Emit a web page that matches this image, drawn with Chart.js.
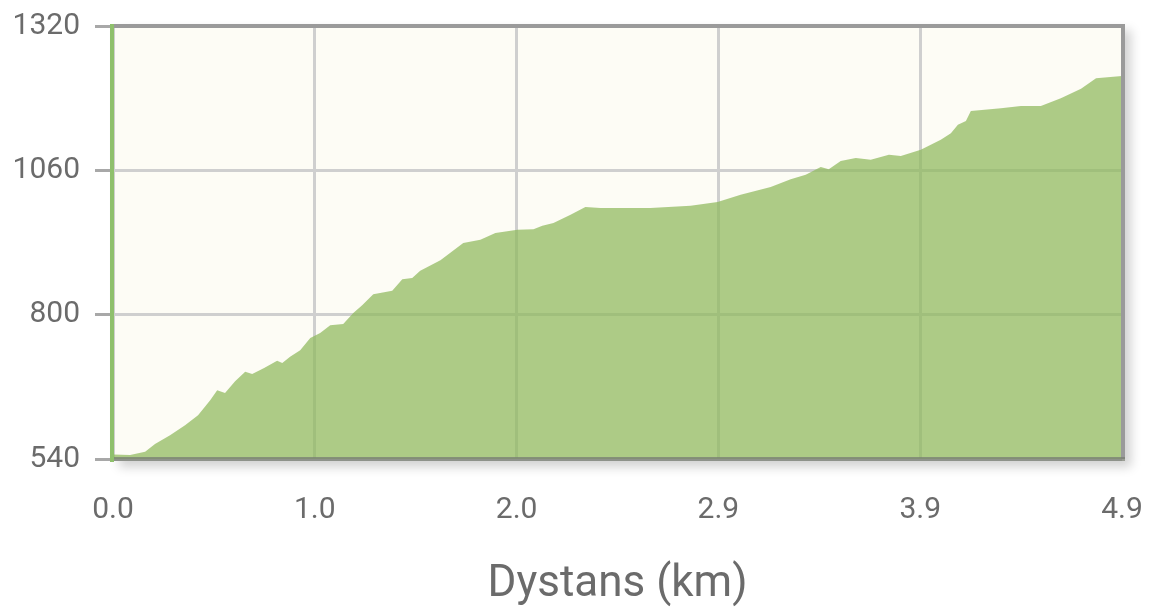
<!DOCTYPE html>
<html>
<head>
<meta charset="utf-8">
<script src="https://cdn.jsdelivr.net/npm/chart.js@4.4.1/dist/chart.umd.min.js"></script>
<style>
  html, body { margin: 0; padding: 0; background: #ffffff; }
  #wrap { width: 1152px; height: 609px; position: relative; }
</style>
</head>
<body>
<div id="wrap"><canvas id="c" width="1152" height="609"></canvas></div>
<script>
// Distance along the route (km)
const distances = [0.000, 0.083, 0.156, 0.204, 0.277, 0.350, 0.413, 0.472, 0.506, 0.544,
  0.593, 0.642, 0.676, 0.734, 0.797, 0.822, 0.860, 0.909, 0.958, 1.006,
  1.055, 1.118, 1.167, 1.210, 1.264, 1.356, 1.405, 1.453, 1.492, 1.590,
  1.701, 1.784, 1.857, 1.964, 2.042, 2.085, 2.139, 2.222, 2.294, 2.367,
  2.465, 2.610, 2.805, 2.936, 3.048, 3.194, 3.291, 3.364, 3.437, 3.476,
  3.534, 3.607, 3.680, 3.768, 3.826, 3.923, 4.020, 4.069, 4.103, 4.142,
  4.166, 4.312, 4.409, 4.506, 4.603, 4.701, 4.774, 4.900];
// Elevation (m)
const elevations = [548, 547, 553, 567, 583, 601, 619, 646, 664, 659,
  680, 697, 693, 704, 717, 713, 724, 736, 758, 767,
  781, 783, 803, 817, 837, 843, 864, 866, 879, 898,
  929, 935, 947, 953, 954, 960, 965, 980, 994, 992,
  992, 992, 996, 1003, 1016, 1030, 1044, 1052, 1066, 1062,
  1077, 1082, 1079, 1088, 1086, 1097, 1115, 1127, 1142, 1149,
  1167, 1172, 1176, 1176, 1190, 1207, 1226, 1230];
// Axis ticks
const xTickValues = [0, 0.98, 1.96, 2.94, 3.92, 4.9];
const xTickLabels = ["0.0", "1.0", "2.0", "2.9", "3.9", "4.9"];
const yTickValues = [540, 800, 1060, 1320];
const xTitle = "Dystans (km)";

const points = distances.map((d, i) => ({ x: d, y: elevations[i] }));

function noScalePadding(scale) {
  scale.paddingTop = 0;
  scale.paddingBottom = 0;
  scale.paddingLeft = 0;
  scale.paddingRight = 0;
}

const frame = {
  id: 'frame',
  beforeDraw(chart) {
    const { ctx, chartArea: a } = chart;
    ctx.save();
    ctx.shadowColor = 'rgba(0,0,0,0.18)';
    ctx.shadowBlur = 10;
    ctx.shadowOffsetX = 6;
    ctx.shadowOffsetY = 6;
    ctx.fillStyle = '#fdfcf5';
    ctx.fillRect(a.left, a.top - 2, a.right - a.left + 3, a.bottom - a.top + 4);
    ctx.restore();
  },
  afterDatasetsDraw(chart) {
    const { ctx, chartArea: a } = chart;
    ctx.save();
    ctx.lineWidth = 4;
    ctx.strokeStyle = '#9a9a9a';
    ctx.beginPath();
    ctx.moveTo(a.left, a.top);
    ctx.lineTo(a.right + 1, a.top);
    ctx.lineTo(a.right + 1, a.bottom);
    ctx.stroke();
    ctx.strokeStyle = 'rgba(120,125,115,0.75)';
    ctx.beginPath();
    ctx.moveTo(a.left, a.bottom);
    ctx.lineTo(a.right + 3, a.bottom);
    ctx.stroke();
    ctx.strokeStyle = '#8fc06c';
    ctx.beginPath();
    ctx.moveTo(a.left - 1, a.top - 2);
    ctx.lineTo(a.left - 1, a.bottom + 3);
    ctx.stroke();
    ctx.restore();
  }
};

new Chart(document.getElementById('c'), {
  type: 'line',
  data: {
    datasets: [{
      data: points,
      fill: 'start',
      backgroundColor: 'rgba(142,184,92,0.72)',
      borderColor: 'rgba(142,184,92,0.72)',
      borderWidth: 0,
      pointRadius: 0,
      tension: 0
    }]
  },
  options: {
    responsive: false,
    animation: false,
    events: [],
    layout: { padding: { top: 26, right: 30, left: 0, bottom: 0 } },
    plugins: { legend: { display: false }, tooltip: { enabled: false } },
    scales: {
      x: {
        type: 'linear',
        min: 0,
        max: 4.9,
        afterFit(scale) { scale.height = 150; noScalePadding(scale); },
        afterBuildTicks(scale) { scale.ticks = xTickValues.map(v => ({ value: v })); },
        border: { display: false },
        grid: { color: '#cfcfcf', lineWidth: 3, drawTicks: false },
        ticks: {
          autoSkip: false,
          maxRotation: 0,
          padding: 33,
          color: '#6b6b6b',
          font: { family: 'Roboto', size: 30 },
          callback: (v, i) => xTickLabels[i]
        },
        title: {
          display: true,
          text: xTitle,
          color: '#6b6b6b',
          font: { family: 'Roboto', size: 44, lineHeight: 1.0 },
          padding: { top: 0, bottom: 2 }
        }
      },
      y: {
        min: 540,
        max: 1320,
        afterFit(scale) { scale.width = 113; noScalePadding(scale); },
        afterBuildTicks(scale) { scale.ticks = yTickValues.map(v => ({ value: v })); },
        border: { display: false },
        grid: { color: '#cfcfcf', lineWidth: 3, tickLength: 18, tickColor: '#a8a8a8', tickWidth: 3 },
        ticks: {
          padding: 15,
          color: '#6b6b6b',
          font: { family: 'Roboto', size: 30 },
          callback: (v) => String(v)
        }
      }
    }
  },
  plugins: [frame]
});
</script>
</body>
</html>
